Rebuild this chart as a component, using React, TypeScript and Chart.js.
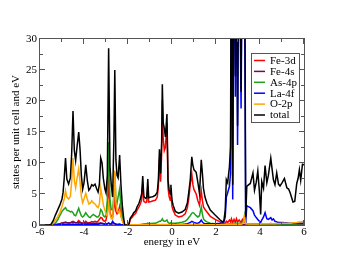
import React, { useEffect, useRef } from "react";
import { Chart, registerables } from "chart.js";
Chart.register(...registerables);

// energy grid (eV)
const energy = [
  -6.0, -5.6, -5.5, -5.4, -5.3, -5.2, -5.1, -5.0, -4.95, -4.9,
  -4.84, -4.78, -4.7, -4.62, -4.56, -4.5, -4.44, -4.38, -4.32, -4.24,
  -4.18, -4.12, -4.06, -4.0, -3.92, -3.85, -3.78, -3.72, -3.65, -3.58,
  -3.5, -3.42, -3.36, -3.3, -3.24, -3.18, -3.12, -3.05, -3.0, -2.94,
  -2.88, -2.82, -2.76, -2.7, -2.64, -2.6, -2.55, -2.5, -2.45, -2.38,
  -2.32, -2.26, -2.2, -2.15, -2.0, -1.95, -1.9, -1.8, -1.74, -1.65,
  -1.59, -1.5, -1.44, -1.38, -1.33, -1.28, -1.2, -1.15, -1.1, -1.06,
  -0.95, -0.85, -0.75, -0.67, -0.62, -0.57, -0.52, -0.47, -0.44, -0.4,
  -0.35, -0.3, -0.23, -0.18, -0.13, -0.08, -0.05, 0.0, 0.05, 0.15,
  0.3, 0.45, 0.6, 0.7, 0.76, 0.83, 0.9, 0.95, 1.0, 1.1,
  1.17, 1.25, 1.33, 1.38, 1.43, 1.5, 1.59, 1.74, 1.96, 2.19,
  2.31, 2.36, 2.42, 2.47, 2.53, 2.61, 2.66, 2.7, 2.76, 2.82,
  2.88, 2.93, 2.98, 3.05, 3.14, 3.2, 3.26, 3.3, 3.35, 3.4,
  3.45, 3.56, 3.68, 3.75, 3.83, 3.9, 3.97, 4.03, 4.08, 4.16,
  4.23, 4.31, 4.38, 4.49, 4.55, 4.61, 4.68, 4.76, 4.84, 4.91,
  5.0, 5.11, 5.22, 5.3, 5.37, 5.44, 5.5, 5.58, 5.67, 5.73,
  5.79, 5.85, 5.93, 6.0,
];

const fe3d = [
  0, 0, 0, 0.05, 0.1, 0.15, 0.2, 0.3, 0.3, 0.35,
  0.4, 0.35, 0.3, 0.35, 0.5, 0.6, 0.45, 0.35, 0.4, 0.7,
  0.5, 0.35, 0.3, 0.35, 0.6, 0.4, 0.35, 0.4, 0.55, 0.5,
  0.6, 0.5, 0.6, 0.9, 1.2, 1.1, 0.7, 0.6, 0.8, 2.0,
  8.0, 2.0, 1.4, 1.3, 2.8, 4.6, 2.2, 1.8, 2.0, 3.0,
  1.5, 0.8, 0.3, 0, 0, 0.15, 0.9, 1.3, 1.6, 1.9,
  2.4, 2.9, 3.4, 4.0, 6.6, 3.8, 3.6, 3.7, 6.3, 3.7,
  3.8, 3.9, 4.0, 4.5, 6.2, 10.8, 7.0, 11.5, 20.2, 14,
  12, 12.5, 16.5, 6.0, 4.6, 4.0, 5.3, 3.0, 2.4, 1.6,
  1.3, 1.4, 1.8, 2.8, 4.2, 6.5, 8.2, 6.5, 5.7, 5.0,
  4.0, 3.2, 5.5, 4.0, 2.9, 2.5, 2.1, 1.4, 0.9, 0.5,
  0.3, 0.3, 0.3, 0.6, 0.4, 0.8, 0.5, 1.0, 0.4, 0.9,
  0.4, 1.0, 0.5, 0.8, 0.4, 0.9, 0.5, 0.6, 0.2, 0.2,
  0.2, 0.15, 0.2, 0.15, 0.2, 0.2, 0.15, 0.1, 0.2, 0.15,
  0.2, 0.15, 0.2, 0.25, 0.2, 0.15, 0.15, 0.2, 0.15, 0.15,
  0.15, 0.2, 0.15, 0.15, 0.15, 0.1, 0.1, 0.1, 0.15, 0.2,
  0.2, 0.15, 0.2, 0.2,
];

const fe4s = [
  0, 0, 0, 0.02, 0.05, 0.1, 0.2, 0.3, 0.35, 0.4,
  0.45, 0.4, 0.35, 0.35, 0.4, 0.45, 0.4, 0.35, 0.35, 0.4,
  0.35, 0.3, 0.3, 0.3, 0.35, 0.3, 0.3, 0.3, 0.3, 0.3,
  0.3, 0.3, 0.3, 0.3, 0.35, 0.3, 0.25, 0.2, 0.2, 0.2,
  0.3, 0.2, 0.15, 0.15, 0.2, 0.25, 0.15, 0.1, 0.1, 0.1,
  0.05, 0.03, 0, 0, 0, 0, 0.02, 0.02, 0.02, 0.02,
  0.03, 0.03, 0.03, 0.03, 0.03, 0.03, 0.03, 0.03, 0.03, 0.03,
  0.03, 0.03, 0.03, 0.03, 0.03, 0.03, 0.03, 0.03, 0.03, 0.03,
  0.03, 0.03, 0.03, 0.03, 0.03, 0.03, 0.03, 0.03, 0.03, 0.03,
  0.03, 0.03, 0.03, 0.03, 0.03, 0.03, 0.03, 0.03, 0.03, 0.03,
  0.03, 0.03, 0.03, 0.03, 0.03, 0.03, 0.03, 0.03, 0.03, 0.03,
  0.03, 0.03, 0.05, 0.05, 0.05, 0.05, 0.05, 0.1, 0.05, 0.1,
  0.05, 0.1, 0.05, 0.1, 0.05, 0.1, 0.1, 0.1, 0.05, 0.05,
  0.05, 0.05, 0.05, 0.05, 0.05, 0.05, 0.05, 0.05, 0.05, 0.05,
  0.05, 0.05, 0.05, 0.05, 0.05, 0.05, 0.05, 0.05, 0.05, 0.05,
  0.05, 0.05, 0.05, 0.05, 0.05, 0.05, 0.05, 0.05, 0.05, 0.05,
  0.05, 0.05, 0.05, 0.05,
];

const as4p = [
  0, 0, 0, 0.1, 0.3, 0.8, 1.5, 2.2, 2.4, 2.6,
  2.8, 2.4, 2.3, 2.1, 2.2, 2.0, 1.6, 1.5, 2.0, 2.7,
  2.0, 1.5, 1.3, 1.5, 2.0, 1.6, 1.3, 1.2, 1.5, 1.7,
  1.5, 1.3, 1.3, 1.6, 2.5, 2.2, 1.5, 1.3, 1.5, 4.0,
  13.4, 4.0, 2.5, 2.4, 5.0, 8.5, 4.0, 3.5, 4.5, 5.8,
  3.0, 1.5, 0.4, 0, 0, 0.02, 0.05, 0.05, 0.05, 0.05,
  0.05, 0.05, 0.1, 0.1, 0.15, 0.15, 0.2, 0.2, 0.3, 0.25,
  0.25, 0.3, 0.3, 0.4, 0.5, 0.6, 0.6, 0.8, 1.0, 0.7,
  0.6, 0.6, 0.8, 0.4, 0.3, 0.3, 0.35, 0.3, 0.3, 0.3,
  0.35, 0.45, 0.6, 0.9, 1.2, 1.5, 1.9, 2.0, 1.9, 1.5,
  1.3, 1.5, 2.9, 1.8, 1.0, 0.7, 0.5, 0.3, 0.2, 0.1,
  0.1, 0.1, 0.1, 0.15, 0.1, 0.2, 0.1, 0.3, 0.1, 0.3,
  0.2, 0.3, 0.15, 0.3, 0.2, 0.4, 0.8, 1.6, 0.3, 0.2,
  0.2, 0.15, 0.2, 0.15, 0.15, 0.2, 0.15, 0.1, 0.15, 0.15,
  0.2, 0.15, 0.15, 0.2, 0.2, 0.15, 0.15, 0.15, 0.15, 0.15,
  0.15, 0.15, 0.15, 0.15, 0.15, 0.15, 0.15, 0.15, 0.15, 0.2,
  0.2, 0.2, 0.25, 0.3,
];

const la4f = [
  0, 0, 0, 0, 0.02, 0.05, 0.05, 0.1, 0.1, 0.1,
  0.1, 0.1, 0.1, 0.1, 0.1, 0.15, 0.1, 0.1, 0.1, 0.15,
  0.1, 0.1, 0.1, 0.1, 0.15, 0.1, 0.1, 0.1, 0.1, 0.1,
  0.15, 0.1, 0.1, 0.15, 0.2, 0.2, 0.15, 0.1, 0.1, 0.15,
  0.3, 0.15, 0.2, 0.6, 0.3, 0.2, 0.1, 0.1, 0.1, 0.15,
  0.05, 0.02, 0, 0, 0, 0, 0.02, 0.03, 0.03, 0.03,
  0.03, 0.03, 0.04, 0.05, 0.05, 0.05, 0.05, 0.05, 0.05, 0.05,
  0.05, 0.05, 0.05, 0.05, 0.05, 0.05, 0.05, 0.05, 0.05, 0.05,
  0.05, 0.05, 0.05, 0.05, 0.05, 0.05, 0.05, 0.05, 0.05, 0.08,
  0.1, 0.1, 0.15, 0.2, 0.3, 0.4, 0.6, 0.5, 0.4, 0.3,
  0.3, 0.4, 0.8, 0.5, 0.3, 0.25, 0.2, 0.2, 0.2, 0.3,
  0.4, 0.5, 1.3, 4.5, 5.2, 6.2, 8.3, 45, 4.1, 50,
  20.7, 45, 12.9, 50, 18.8, 48, 35, 38, 0.3, 3.1,
  3.0, 2.8, 2.3, 1.6, 1.2, 0.9, 0.6, 0.4, 0.8, 1.3,
  2.0, 1.0, 0.9, 1.2, 0.8, 1.0, 0.6, 0.5, 0.4, 0.4,
  0.4, 0.35, 0.35, 0.3, 0.3, 0.3, 0.3, 0.3, 0.3, 0.3,
  0.35, 0.3, 0.3, 0.3,
];

const o2p = [
  0, 0, 0, 0.3, 0.8, 1.3, 2.0, 3.0, 3.6, 4.2,
  5.5, 4.5, 4.2, 4.6, 7.0, 10.8, 7.2, 6.0, 7.5, 9.1,
  7.0, 4.6, 3.6, 4.2, 5.1, 4.2, 3.4, 3.5, 3.9, 3.6,
  3.4, 3.0, 2.8, 3.4, 5.9, 4.6, 3.2, 2.4, 1.8, 1.5,
  3.5, 1.8, 1.0, 0.9, 4.5, 8.8, 3.5, 2.3, 2.0, 2.4,
  1.4, 0.7, 0.2, 0, 0, 0.01, 0.03, 0.03, 0.03, 0.03,
  0.03, 0.04, 0.04, 0.05, 0.06, 0.05, 0.05, 0.05, 0.06, 0.05,
  0.05, 0.05, 0.05, 0.05, 0.06, 0.08, 0.07, 0.08, 0.1, 0.08,
  0.07, 0.07, 0.08, 0.05, 0.05, 0.05, 0.05, 0.05, 0.05, 0.05,
  0.05, 0.05, 0.05, 0.06, 0.07, 0.08, 0.1, 0.1, 0.1, 0.08,
  0.08, 0.08, 0.1, 0.08, 0.06, 0.05, 0.05, 0.05, 0.05, 0.05,
  0.05, 0.05, 0.08, 0.1, 0.1, 0.1, 0.1, 0.15, 0.1, 0.15,
  0.1, 0.15, 0.1, 0.15, 0.1, 0.2, 0.5, 1.3, 0.2, 0.2,
  0.15, 0.15, 0.15, 0.15, 0.15, 0.15, 0.15, 0.15, 0.2, 0.2,
  0.2, 0.2, 0.2, 0.2, 0.2, 0.2, 0.2, 0.25, 0.25, 0.25,
  0.3, 0.3, 0.3, 0.3, 0.3, 0.3, 0.35, 0.35, 0.4, 0.45,
  0.5, 0.5, 0.55, 0.6,
];

const total = [
  0, 0, 0.1, 0.7, 1.6, 2.4, 3.2, 4.2, 5.3, 7.5,
  10.8, 7.4, 6.6, 7.6, 11.5, 18.4, 12, 10.4, 12.5, 15,
  12.2, 8, 5.8, 6.8, 9.7, 7.2, 5.6, 5.9, 6.5, 6.3,
  6.6, 5.8, 5.3, 6.6, 10.8, 10, 7.5, 5.8, 5.2, 8,
  28.5, 9.5, 6.5, 4.5, 14, 25, 10.5, 8, 7.6, 11.3,
  6.5, 3.2, 1.2, 0, 0, 0.2, 1.1, 1.6, 2.0, 2.3,
  2.9, 3.5, 4.2, 5.0, 7.9, 4.6, 4.3, 4.4, 7.4, 4.4,
  4.5, 4.6, 4.8, 5.3, 7.2, 12.2, 8.3, 13.5, 22.7, 16.5,
  15.6, 14.2, 17.9, 7.2, 5.7, 5.0, 6.5, 4.0, 3.2, 2.2,
  1.9, 2.1, 2.5, 3.6, 5.2, 7.3, 11, 9.6, 8.9, 8.5,
  7.0, 5.1, 10.5, 8.4, 5.9, 4.5, 3.5, 2.4, 1.6, 0.8,
  0.5, 0.7, 2.4, 7.3, 6.8, 9.4, 12.6, 55, 6.5, 60,
  24, 55, 16, 60, 21.5, 60, 45, 50, 1.3, 6.2,
  6.4, 6.7, 8.4, 5.6, 6.9, 8.7, 5.5, 1.7, 7.0, 5.9,
  9.6, 6.8, 8.0, 10.8, 9.0, 7.3, 6.5, 8.4, 6.6, 6.3,
  6.8, 7.5, 6.0, 5.8, 5.2, 4.4, 3.7, 3.8, 6.7, 7.5,
  8.9, 7.2, 9.8, 9.7,
];

const seriesLabels = ["Fe-3d", "Fe-4s", "As-4p", "La-4f", "O-2p", "total"];
const seriesValues = [fe3d, fe4s, as4p, la4f, o2p, total];
const seriesColors = ["#ff0000", "#6e0c5a", "#1fa01f", "#0000ff", "#ffa500", "#000000"];

const xTitle = "energy in eV";
const yTitle = "states per unit cell and eV";

const FONT = "'Liberation Serif', 'Times New Roman', serif";

const framePlugin = {
  id: "graceFrame",
  afterDatasetsDraw(chart: any) {
    const { ctx, chartArea: a, scales } = chart;
    const xs = scales.x;
    const ys = scales.y;
    ctx.save();
    ctx.strokeStyle = "#555";
    ctx.lineWidth = 1;
    ctx.strokeRect(a.left - 0.5, a.top - 0.5, a.right - a.left + 1, a.bottom - a.top + 1);
    ctx.beginPath();
    for (let v = -6; v <= 6; v += 1) {
      const len = v % 2 === 0 ? 5 : 3;
      const px = Math.round(xs.getPixelForValue(v)) - 0.5;
      ctx.moveTo(px, a.bottom);
      ctx.lineTo(px, a.bottom - len);
      ctx.moveTo(px, a.top);
      ctx.lineTo(px, a.top + len);
    }
    for (let v = 0; v <= 30; v += 2.5) {
      const len = v % 5 === 0 ? 5 : 3;
      const py = Math.round(ys.getPixelForValue(v)) - 0.5;
      ctx.moveTo(a.left, py);
      ctx.lineTo(a.left + len, py);
      ctx.moveTo(a.right, py);
      ctx.lineTo(a.right - len, py);
    }
    ctx.stroke();
    ctx.restore();
  },
  afterDraw(chart: any) {
    const { ctx, chartArea: a } = chart;
    const bx = a.right - 53;
    const by = a.top + 14;
    const bw = 48;
    const bh = 69;
    ctx.save();
    ctx.fillStyle = "#fff";
    ctx.fillRect(bx, by, bw, bh);
    ctx.strokeStyle = "#555";
    ctx.lineWidth = 1;
    ctx.strokeRect(bx + 0.5, by + 0.5, bw, bh);
    ctx.font = "11px " + FONT;
    ctx.textBaseline = "middle";
    ctx.textAlign = "left";
    chart.data.datasets.forEach((ds: any, i: number) => {
      const y = by + 7.5 + i * 10.9;
      ctx.strokeStyle = ds.borderColor;
      ctx.lineWidth = 1.5;
      ctx.beginPath();
      ctx.moveTo(bx + 3, y);
      ctx.lineTo(bx + 14, y);
      ctx.stroke();
      ctx.fillStyle = "#000";
      ctx.fillText(ds.label, bx + 19, y + 0.5);
    });
    ctx.restore();
  },
};

export default function App() {
  const ref = useRef<HTMLCanvasElement | null>(null);
  useEffect(() => {
    if (!ref.current) return;
    const datasets = seriesLabels.map((label, i) => ({
      label,
      data: energy.map((e, j) => ({ x: e, y: seriesValues[i][j] })),
      borderColor: seriesColors[i],
      backgroundColor: seriesColors[i],
      borderWidth: 1.5,
      pointRadius: 0,
      tension: 0,
      fill: false,
      order: seriesLabels.length - i,
    }));
    const tickFont = { family: FONT, size: 11 };
    const chart = new Chart(ref.current, {
      type: "line",
      data: { datasets },
      plugins: [framePlugin],
      options: {
        responsive: false,
        animation: false,
        devicePixelRatio: 1,
        layout: { padding: { top: 39, right: 48, left: 0, bottom: 0 } },
        plugins: { legend: { display: false }, tooltip: { enabled: false } },
        scales: {
          x: {
            type: "linear",
            min: -6,
            max: 6,
            ticks: { stepSize: 2, font: tickFont, color: "#000", padding: 1, maxRotation: 0 },
            grid: { display: false, drawTicks: false },
            border: { display: false },
            title: { display: true, text: xTitle, font: tickFont, color: "#000", padding: { top: 0, bottom: 23 } },
            afterFit: (s: any) => { s.height = 47; },
          },
          y: {
            min: 0,
            max: 30,
            ticks: { stepSize: 5, font: tickFont, color: "#000", padding: 3 },
            grid: { display: false, drawTicks: false },
            border: { display: false },
            title: { display: true, text: yTitle, font: tickFont, color: "#000", padding: { top: 10, bottom: 0 } },
            afterFit: (s: any) => { s.width = 40; },
          },
        },
      },
    } as any);
    return () => chart.destroy();
  }, []);
  return (
    <div style={{ position: "fixed", left: 0, top: 0, width: 352, height: 272, background: "#fff" }}>
      <canvas ref={ref} width={352} height={272} style={{ display: "block" }} />
    </div>
  );
}
